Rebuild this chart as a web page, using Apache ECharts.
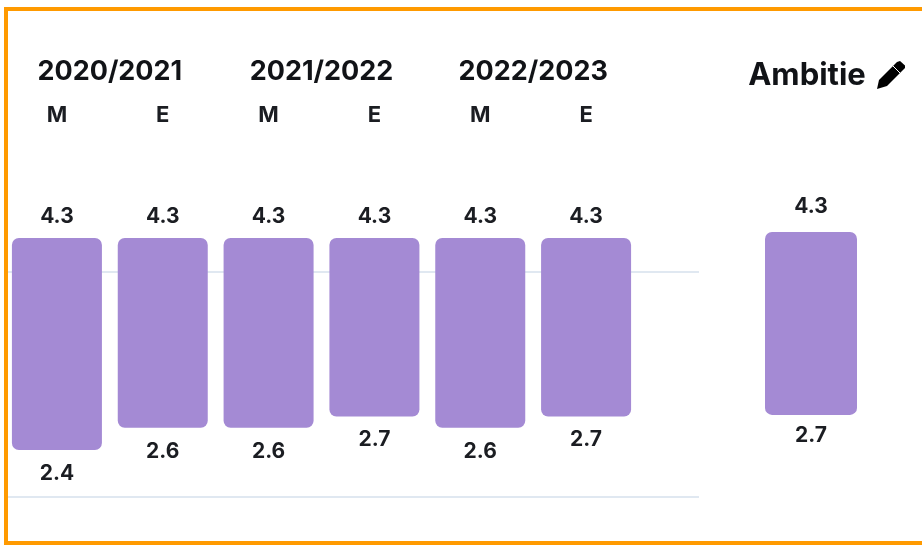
<!DOCTYPE html>
<html>
<head>
<meta charset="utf-8">
<title>Ambitie</title>
<script src="https://cdn.jsdelivr.net/npm/echarts@6/dist/echarts.min.js"></script>
<style>
    html, body { margin: 0; padding: 0; background: #fff; }
    #main { width: 922px; height: 545px; }
</style>
</head>
<body>
<div id="main"></div>
<script>
const seasons = ['2020/2021', '2021/2022', '2022/2023']
const periods = ['M', 'E', 'M', 'E', 'M', 'E']
const highs = [4.3, 4.3, 4.3, 4.3, 4.3, 4.3]
const lows = [2.4, 2.6, 2.6, 2.7, 2.6, 2.7]
const ambitionLabel = ['Ambitie']
const ambitionHigh = [4.3]
const ambitionLow = [2.7]

const textColor = '#1b1d22'
const font = 'Inter'
const purple = '#a48ad4'

const chart = echarts.init(document.getElementById('main'), null, { renderer: 'canvas' })

// onderkant is een doorzichtige stapel, daarboven de echte balk
function rangeSeries(name, low, high, xAxisIndex, yAxisIndex, width, topGap, bottomGap) {
    return [
        {
            name: name + ' basis',
            type: 'bar',
            stack: name,
            xAxisIndex,
            yAxisIndex,
            barWidth: width,
            silent: true,
            itemStyle: { color: 'transparent' },
            label: {
                show: true,
                position: 'insideTop',
                distance: bottomGap,
                fontFamily: font,
                fontWeight: 700,
                fontSize: 21,
                color: textColor,
                formatter: (p) => low[p.dataIndex].toFixed(1)
            },
            data: low
        },
        {
            name,
            type: 'bar',
            stack: name,
            xAxisIndex,
            yAxisIndex,
            barWidth: width,
            itemStyle: { color: purple, borderRadius: 7 },
            label: {
                show: true,
                position: 'top',
                distance: topGap,
                fontFamily: font,
                fontWeight: 700,
                fontSize: 21,
                color: textColor,
                formatter: (p) => high[p.dataIndex].toFixed(1)
            },
            data: high.map((v, i) => +(v - low[i]).toFixed(1))
        }
    ]
}

const hiddenY = { type: 'value', min: 2, max: 4.5, show: false }

chart.setOption({
    animation: false,
    backgroundColor: '#fff',
    grid: [
        { left: 4, top: 215.7, width: 635, height: 279 },
        { left: 7, top: 272, width: 692, height: 225 },
        { left: 765, top: 209, width: 92, height: 286 }
    ],
    xAxis: [
        {
            type: 'category',
            gridIndex: 0,
            position: 'top',
            offset: 81,
            data: periods,
            axisLine: { show: false },
            axisTick: { show: false },
            axisLabel: {
                interval: 0,
                fontFamily: font,
                fontWeight: 700,
                fontSize: 22,
                color: textColor
            }
        },
        {
            type: 'category',
            gridIndex: 0,
            position: 'top',
            offset: 122,
            data: seasons,
            axisLine: { show: false },
            axisTick: { show: false },
            axisLabel: {
                interval: 0,
                fontFamily: font,
                fontWeight: 700,
                fontSize: 27,
                color: '#111317'
            }
        },
        { type: 'category', gridIndex: 1, show: false, data: periods },
        {
            type: 'category',
            gridIndex: 2,
            position: 'top',
            offset: 110,
            data: ambitionLabel,
            axisLine: { show: false },
            axisTick: { show: false },
            axisLabel: {
                interval: 0,
                padding: [0, 8, 0, 0],
                fontFamily: font,
                fontWeight: 700,
                fontSize: 31,
                color: '#111317'
            }
        }
    ],
    yAxis: [
        { ...hiddenY, gridIndex: 0 },
        {
            type: 'value',
            gridIndex: 1,
            min: 2,
            max: 4,
            interval: 2,
            axisLine: { show: false },
            axisTick: { show: false },
            axisLabel: { show: false },
            splitLine: { show: true, lineStyle: { color: '#d6e0ec', width: 1.5 } }
        },
        { ...hiddenY, gridIndex: 2 }
    ],
    series: [
        ...rangeSeries('Resultaat', lows, highs, 0, 0, 90, 11, 13),
        ...rangeSeries('Ambitie', ambitionLow, ambitionHigh, 3, 2, 92, 15, 10)
    ],
    graphic: [
        {
            type: 'rect',
            z: 100,
            silent: true,
            shape: { x: 6, y: 9, width: 950, height: 534 },
            style: { fill: 'none', stroke: '#ff9a00', lineWidth: 4 }
        },
        // potlood naast Ambitie
        {
            type: 'polygon',
            z: 100,
            silent: true,
            shape: { points: [[877, 89], [879, 80], [897, 62], [900, 61], [905, 65.5], [905, 68], [887, 86]] },
            style: { fill: '#000' }
        },
        {
            type: 'line',
            z: 101,
            silent: true,
            shape: { x1: 893, y1: 66, x2: 901, y2: 74 },
            style: { stroke: '#fff', lineWidth: 1 }
        }
    ]
})
</script>
</body>
</html>
